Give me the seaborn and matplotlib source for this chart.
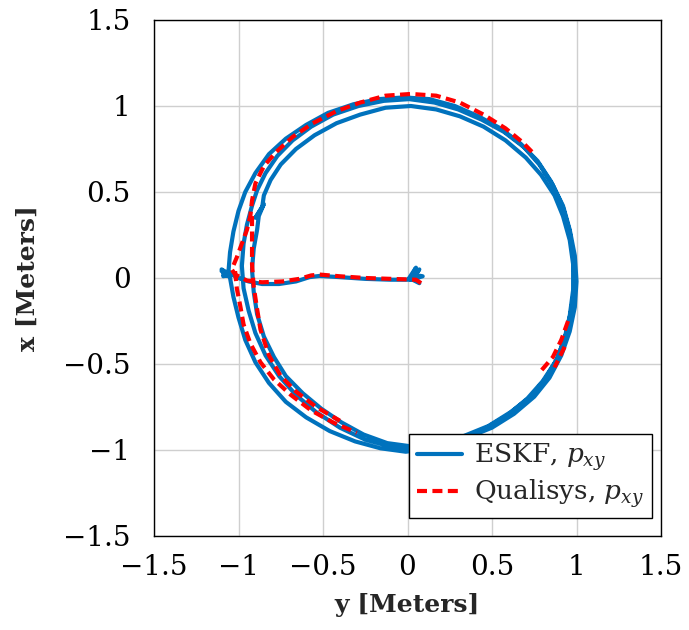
import numpy as np
import pandas as pd
import matplotlib
matplotlib.use("Agg")
import matplotlib.pyplot as plt
import seaborn as sns
from matplotlib.lines import Line2D

# ---- ESKF position estimate, (y, x) pairs in metres ----
eskf_takeoff = [
    (0.03, 0.00), (0.07, 0.05), (0.02, -0.01), (0.09, 0.01), (0.03, 0.02),
    (0.07, -0.03), (0.01, 0.00), (0.05, 0.06), (0.02, -0.01),
    (-0.10, -0.01), (-0.25, -0.005), (-0.40, 0.005), (-0.52, 0.012),
    (-0.58, 0.005), (-0.66, -0.02), (-0.76, -0.035), (-0.86, -0.035),
    (-0.94, -0.02), (-1.00, 0.00), (-1.06, 0.03),
    (-1.10, 0.04), (-1.05, 0.02), (-1.09, 0.01), (-1.06, 0.03),
]
eskf_lap1 = [
    (-1.05, 0.15), (-1.03, 0.27), (-1.00, 0.39), (-0.96, 0.50), (-0.90, 0.61),
    (-0.82, 0.72), (-0.72, 0.81), (-0.60, 0.89), (-0.47, 0.96), (-0.32, 1.01),
    (-0.17, 1.04), (-0.02, 1.05), (0.13, 1.04), (0.28, 1.00), (0.42, 0.94),
    (0.55, 0.87), (0.67, 0.78), (0.77, 0.68), (0.85, 0.56), (0.92, 0.42),
    (0.96, 0.28), (0.99, 0.13), (1.00, -0.02), (0.99, -0.17), (0.96, -0.31),
    (0.91, -0.45), (0.84, -0.58), (0.75, -0.69), (0.63, -0.79), (0.50, -0.87),
    (0.35, -0.93), (0.20, -0.97), (0.05, -0.99), (-0.10, -0.98), (-0.25, -0.94),
    (-0.40, -0.87), (-0.54, -0.78), (-0.66, -0.68), (-0.76, -0.57), (-0.84, -0.45),
    (-0.90, -0.32), (-0.94, -0.19), (-0.97, -0.06), (-0.98, 0.07),
]
eskf_lap2 = [
    (-0.97, 0.20), (-0.95, 0.31), (-0.92, 0.42), (-0.89, 0.51), (-0.84, 0.61),
    (-0.77, 0.71), (-0.68, 0.80), (-0.57, 0.88), (-0.44, 0.95), (-0.29, 1.00),
    (-0.14, 1.03), (0.01, 1.04), (0.16, 1.02), (0.30, 0.98), (0.44, 0.92),
    (0.57, 0.85), (0.69, 0.76), (0.78, 0.66), (0.86, 0.54), (0.92, 0.41),
    (0.96, 0.27), (0.98, 0.12), (0.99, -0.03), (0.97, -0.18), (0.94, -0.32),
    (0.89, -0.46), (0.82, -0.58), (0.73, -0.69), (0.61, -0.78), (0.48, -0.86),
    (0.33, -0.92), (0.18, -0.96), (0.03, -0.98), (-0.12, -0.96), (-0.26, -0.91),
    (-0.39, -0.84), (-0.51, -0.76), (-0.62, -0.67), (-0.72, -0.57), (-0.79, -0.46),
    (-0.85, -0.34), (-0.89, -0.21), (-0.91, -0.08), (-0.92, 0.05),
]
eskf_lap3 = [
    (-0.91, 0.17), (-0.89, 0.28), (-0.88, 0.36), (-0.85, 0.43), (-0.90, 0.35),
    (-0.86, 0.41), (-0.85, 0.48), (-0.81, 0.57), (-0.75, 0.66), (-0.66, 0.75),
    (-0.55, 0.83), (-0.42, 0.90), (-0.28, 0.95), (-0.13, 0.99), (0.02, 1.00),
    (0.17, 0.98), (0.31, 0.94), (0.45, 0.88), (0.58, 0.80), (0.70, 0.70),
    (0.79, 0.60), (0.87, 0.48), (0.92, 0.36), (0.96, 0.22), (0.98, 0.08),
    (0.98, -0.07), (0.96, -0.22), (0.93, -0.35), (0.88, -0.48), (0.80, -0.60),
    (0.71, -0.70), (0.59, -0.80), (0.45, -0.88), (0.30, -0.95), (0.14, -0.99),
    (-0.01, -1.01), (-0.16, -0.99), (-0.31, -0.95), (-0.46, -0.89), (-0.60, -0.81),
    (-0.72, -0.72), (-0.82, -0.61), (-0.90, -0.49), (-0.96, -0.36), (-1.00, -0.23),
    (-1.03, -0.11), (-1.05, 0.00), (-1.07, 0.03),
    (-1.10, 0.05), (-1.05, 0.01), (-1.09, 0.02), (-1.06, 0.04),
]

# ---- Qualisys motion-capture reference, tracked pieces only ----
qualisys_arc_top = [
    (0.08, -0.03), (0.05, -0.01), (-0.10, -0.005), (-0.25, 0.00), (-0.40, 0.01),
    (-0.52, 0.02), (-0.57, 0.015), (-0.64, -0.005), (-0.74, -0.02), (-0.86, -0.025),
    (-0.95, -0.015), (-1.02, 0.02), (-1.04, 0.05), (-1.01, 0.12), (-0.98, 0.20),
    (-0.95, 0.28), (-0.93, 0.36), (-0.92, 0.45), (-0.90, 0.55), (-0.85, 0.65),
    (-0.78, 0.73), (-0.68, 0.82), (-0.56, 0.90), (-0.42, 0.97), (-0.28, 1.02),
    (-0.13, 1.06), (0.02, 1.07), (0.17, 1.06), (0.31, 1.02), (0.45, 0.95),
    (0.58, 0.87), (0.68, 0.79), (0.75, 0.72),
]
qualisys_right_a = [(0.95, -0.25), (0.91, -0.36), (0.86, -0.46), (0.79, -0.54)]
qualisys_right_b = [(0.93, -0.40), (0.90, -0.46), (0.87, -0.52)]
qualisys_low_outer = [
    (-1.02, 0.04), (-1.01, -0.06), (-0.99, -0.16), (-0.97, -0.27), (-0.93, -0.38),
    (-0.87, -0.49), (-0.79, -0.59), (-0.69, -0.68), (-0.57, -0.77), (-0.44, -0.84),
    (-0.30, -0.90),
]
qualisys_low_inner = [
    (-0.92, 0.36), (-0.92, 0.22), (-0.92, 0.08), (-0.91, -0.05), (-0.89, -0.18),
    (-0.87, -0.30), (-0.82, -0.45), (-0.75, -0.57), (-0.66, -0.66), (-0.54, -0.75),
    (-0.40, -0.83),
]

tick_values = [-1.5, -1, -0.5, 0, 0.5, 1, 1.5]
tick_labels = ["\u22121.5", "\u22121", "\u22120.5", "0", "0.5", "1", "1.5"]

ESKF_BLUE = "#0072BD"
QUALISYS_RED = "#FF0000"
DASH = (0, (2.4, 1.3))

# ---- tidy frames ----
eskf = pd.DataFrame(eskf_takeoff + eskf_lap1 + eskf_lap2 + eskf_lap3, columns=["y", "x"])
pieces = [qualisys_arc_top, qualisys_right_a, qualisys_right_b,
          qualisys_low_outer, qualisys_low_inner]
qualisys = pd.concat(
    [pd.DataFrame(p, columns=["y", "x"]).assign(piece=i) for i, p in enumerate(pieces)],
    ignore_index=True,
)

# ---- style ----
sns.set_style("whitegrid")
plt.rcParams["font.family"] = ["DejaVu Serif"]
plt.rcParams["mathtext.fontset"] = "dejavuserif"
plt.rcParams["grid.color"] = "#cfcfcf"
plt.rcParams["grid.linewidth"] = 1.0

fig = plt.figure(figsize=(6.89, 6.30), dpi=100)
ax = fig.add_axes([154 / 689, 1 - 536 / 630, 507 / 689, 516 / 630])

lw = 3.0
sns.lineplot(data=eskf, x="y", y="x", sort=False, estimator=None,
             color=ESKF_BLUE, linewidth=lw, solid_joinstyle="round",
             solid_capstyle="round", ax=ax, legend=False)
sns.lineplot(data=qualisys, x="y", y="x", units="piece", sort=False, estimator=None,
             color=QUALISYS_RED, linewidth=lw, linestyle=DASH,
             ax=ax, legend=False)

ax.set_xlim(-1.5, 1.5)
ax.set_ylim(-1.5, 1.5)
ax.set_xticks(tick_values)
ax.set_xticklabels(tick_labels)
ax.set_yticks(tick_values)
ax.set_yticklabels(tick_labels)
ax.tick_params(axis="both", which="major", direction="out", length=8, width=1,
               color="#b0b0b0", labelsize=20, labelcolor="black")
ax.tick_params(axis="y", pad=9)
ax.tick_params(axis="x", pad=5)
for side in ["left", "right", "top", "bottom"]:
    ax.spines[side].set_color("black")
    ax.spines[side].set_linewidth(1.0)
ax.grid(True, zorder=0)
ax.set_axisbelow(True)

ax.set_xlabel("y [Meters]", fontsize=18, fontweight="bold")
ax.set_ylabel("x [Meters]", fontsize=18, fontweight="bold")
ax.xaxis.label.set_va("center")
ax.yaxis.label.set_va("center")
ax.xaxis.set_label_coords(0.5, (536 - 605) / 516)
ax.yaxis.set_label_coords((28 - 154) / 507, 0.5)

handles = [
    Line2D([], [], color=ESKF_BLUE, linewidth=lw),
    Line2D([], [], color=QUALISYS_RED, linewidth=lw, linestyle=DASH),
]
leg = ax.legend(handles, ["ESKF, $p_{xy}$", "Qualisys, $p_{xy}$"],
                loc="lower right", bbox_to_anchor=(0.982, 0.035),
                borderaxespad=0, fontsize=19, frameon=True, fancybox=False,
                framealpha=1, edgecolor="black", handlelength=1.7,
                handletextpad=0.45, borderpad=0.3, labelspacing=0.15)
leg.get_frame().set_linewidth(1.0)

fig.savefig("out.png", dpi=100)
